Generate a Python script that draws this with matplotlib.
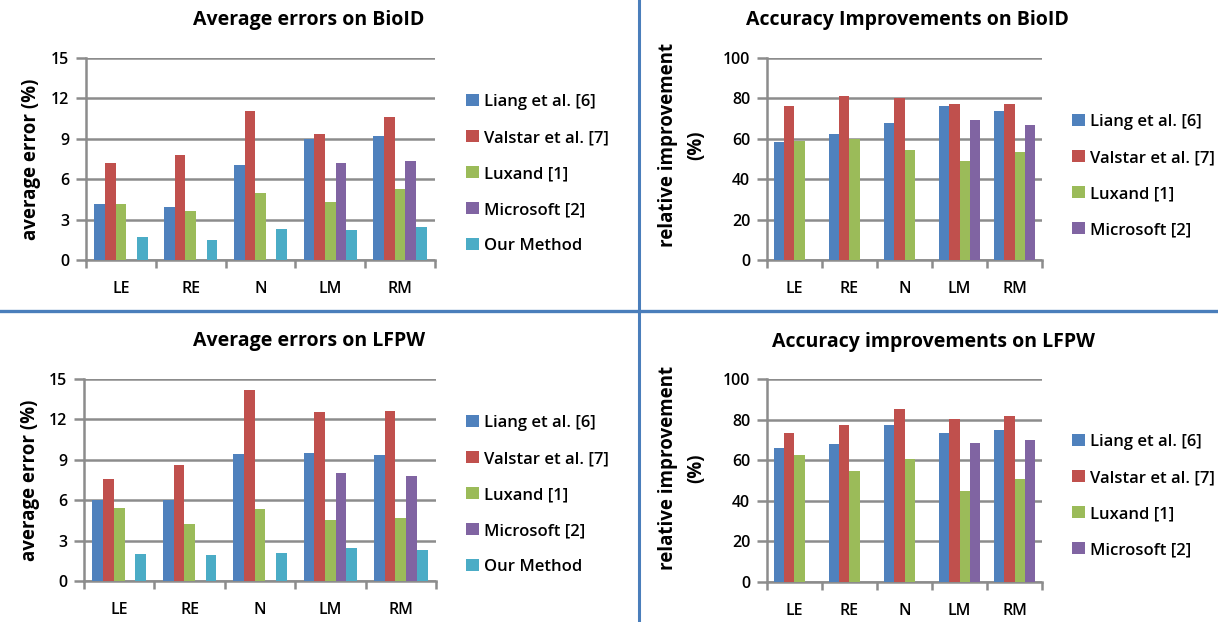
import numpy as np
import matplotlib.pyplot as plt
from matplotlib.lines import Line2D
from matplotlib.patches import Patch

plt.rcParams['font.family'] = ['Open Sans', 'DejaVu Sans']

categories = ['LE', 'RE', 'N', 'LM', 'RM']
methods = ['Liang et al. [6]', 'Valstar et al. [7]', 'Luxand [1]', 'Microsoft [2]', 'Our Method']
colors = ['#4F81BD', '#C0504D', '#9BBB59', '#8064A2', '#4BACC6']

# average errors (%) on BioID, one list per method
bioid_liang = [4.13, 3.90, 7.02, 9.02, 9.22]
bioid_valstar = [7.17, 7.78, 11.09, 9.37, 10.65]
bioid_luxand = [4.13, 3.63, 4.99, 4.27, 5.26]
bioid_microsoft = [0, 0, 0, 7.17, 7.36]
bioid_ours = [1.70, 1.48, 2.27, 2.22, 2.42]

# relative improvements (%) on BioID
bioid_imp_liang = [58.3, 62.3, 67.9, 76.0, 73.7]
bioid_imp_valstar = [76.0, 81.3, 80.0, 77.0, 77.4]
bioid_imp_luxand = [59.0, 59.8, 54.5, 48.8, 53.6]
bioid_imp_microsoft = [0, 0, 0, 69.4, 66.9]

# average errors (%) on LFPW
lfpw_liang = [6.00, 6.00, 9.45, 9.52, 9.37]
lfpw_valstar = [7.56, 8.65, 14.16, 12.52, 12.62]
lfpw_luxand = [5.43, 4.22, 5.36, 4.51, 4.71]
lfpw_microsoft = [0, 0, 0, 8.01, 7.81]
lfpw_ours = [2.01, 1.93, 2.08, 2.45, 2.31]

# relative improvements (%) on LFPW
lfpw_imp_liang = [66.1, 67.9, 77.5, 73.5, 75.0]
lfpw_imp_valstar = [73.2, 77.5, 85.2, 80.3, 81.7]
lfpw_imp_luxand = [62.7, 54.6, 60.7, 44.6, 50.8]
lfpw_imp_microsoft = [0, 0, 0, 68.4, 69.9]

GRID = '#8C8C8C'


def bar_panel(ax, series, ymax, ystep, ylabel, gap):
    n = len(series)
    w = 1.0 / (n + gap)
    x = np.arange(len(categories))
    for i, vals in enumerate(series):
        ax.bar(x - n * w / 2 + (i + 0.5) * w, vals, width=w,
               color=colors[i], zorder=3, linewidth=0)
    ax.set_xlim(-0.5, len(categories) - 0.5)
    ax.set_ylim(0, ymax)
    ax.set_yticks(np.arange(0, ymax + 0.1, ystep))
    ax.set_xticks(x)
    ax.set_xticklabels(categories)
    ax.set_xticks(np.arange(-0.5, len(categories)), minor=True)
    ax.tick_params(axis='x', which='major', length=0, pad=15, labelsize=11.5)
    ax.tick_params(axis='x', which='minor', length=6, width=1.8, color=GRID)
    ax.tick_params(axis='y', length=7, width=1.8, color=GRID, labelsize=11.5, pad=5)
    for lab in ax.get_xticklabels() + ax.get_yticklabels():
        lab.set_fontweight('semibold')
    ax.grid(axis='y', color=GRID, linewidth=1.8, zorder=0)
    for s in ['top', 'right']:
        ax.spines[s].set_visible(False)
    for s in ['left', 'bottom']:
        ax.spines[s].set_color(GRID)
        ax.spines[s].set_linewidth(1.8)
    ax.set_ylabel(ylabel, fontsize=13.5, fontweight='bold', linespacing=1.55)


fig = plt.figure(figsize=(12.18, 6.22), dpi=100)

ax1 = fig.add_axes([86 / 1218, 1 - 260 / 622, 349 / 1218, 202 / 622])
bar_panel(ax1, [bioid_liang, bioid_valstar, bioid_luxand, bioid_microsoft, bioid_ours],
          15, 3, 'average error (%)', 1.56)
ax2 = fig.add_axes([767 / 1218, 1 - 260 / 622, 275 / 1218, 202 / 622])
bar_panel(ax2, [bioid_imp_liang, bioid_imp_valstar, bioid_imp_luxand, bioid_imp_microsoft],
          100, 20, 'relative improvement\n(%)', 1.3)
ax3 = fig.add_axes([84 / 1218, 1 - 581 / 622, 352 / 1218, 202 / 622])
bar_panel(ax3, [lfpw_liang, lfpw_valstar, lfpw_luxand, lfpw_microsoft, lfpw_ours],
          15, 3, 'average error (%)', 1.56)
ax4 = fig.add_axes([767 / 1218, 1 - 582 / 622, 275 / 1218, 203 / 622])
bar_panel(ax4, [lfpw_imp_liang, lfpw_imp_valstar, lfpw_imp_luxand, lfpw_imp_microsoft],
          100, 20, 'relative improvement\n(%)', 1.3)

ax1.yaxis.set_label_coords(-0.13, 0.5)
ax3.yaxis.set_label_coords(-0.125, 0.5)
ax2.yaxis.set_label_coords(-0.22, 0.57)
ax4.yaxis.set_label_coords(-0.22, 0.56)

# titles
title_kw = dict(ha='center', va='center', fontsize=14, fontweight='bold')
fig.text(309 / 1218, 1 - 20 / 622, 'Average errors on BioID', **title_kw)
fig.text(907 / 1218, 1 - 20 / 622, 'Accuracy Improvements on BioID', **title_kw)
fig.text(309 / 1218, 1 - 341 / 622, 'Average errors on LFPW', **title_kw)
fig.text(934 / 1218, 1 - 342 / 622, 'Accuracy improvements on LFPW', **title_kw)


# legends
def add_legend(n, x, y_top):
    handles = [Patch(facecolor=colors[i], edgecolor='none') for i in range(n)]
    leg = fig.legend(handles, methods[:n], loc='upper left',
                     bbox_to_anchor=(x / 1218, 1 - y_top / 622), frameon=False,
                     handlelength=0.75, handleheight=0.75, handletextpad=0.3,
                     labelspacing=1.2, borderaxespad=0, borderpad=0,
                     prop={'size': 12, 'weight': 'semibold'})
    return leg


add_legend(5, 466, 94)
add_legend(4, 1072, 114)
add_legend(5, 466, 415)
add_legend(4, 1072, 434)

# separators
sep = '#4A7EBB'
fig.add_artist(Line2D([638.5 / 1218, 638.5 / 1218], [0, 1], color=sep, linewidth=2.2))
fig.add_artist(Line2D([0, 1], [1 - 311.3 / 622, 1 - 311.3 / 622], color=sep, linewidth=2.4))

fig.savefig('out.png', dpi=100)
